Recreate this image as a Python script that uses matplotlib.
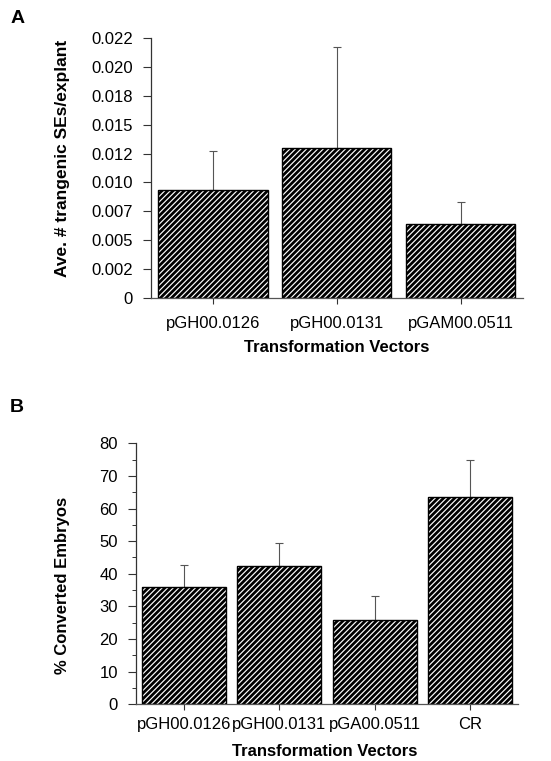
import numpy as np
import matplotlib as mpl
from matplotlib import pyplot as plt
from matplotlib.ticker import MultipleLocator

mpl.rcParams.update({
    "font.family": ["Liberation Sans", "DejaVu Sans"],
    "hatch.linewidth": 0.85,
    "axes.linewidth": 0.9,
})

# Panel A data
vectors_a = ["pGH00.0126", "pGH00.0131", "pGAM00.0511"]
ses_mean = [0.00935, 0.0130, 0.0064]
ses_err = [0.0034, 0.0087, 0.0019]
ticks_a = [0, 0.0025, 0.005, 0.0075, 0.010, 0.0125, 0.015, 0.0175, 0.020, 0.0225]
ticklabels_a = ["0", "0.002", "0.005", "0.007", "0.010", "0.012", "0.015", "0.018", "0.020", "0.022"]

# Panel B data
vectors_b = ["pGH00.0126", "pGH00.0131", "pGA00.0511", "CR"]
conv_mean = [35.8, 42.4, 25.9, 63.5]
conv_err = [7.0, 7.0, 7.4, 11.5]

fig = plt.figure(figsize=(5.51, 7.61), dpi=100)


def hatched_bars(ax, x, h, width):
    ax.bar(x, h, width, color="black", edgecolor="white", hatch="//////", linewidth=0, zorder=2)
    ax.bar(x, h, width, fill=False, edgecolor="black", linewidth=1.0, zorder=3)


def style_axes(ax):
    for s in ["top", "right"]:
        ax.spines[s].set_visible(False)
    ax.spines["left"].set_color("#333333")
    ax.spines["bottom"].set_color("#555555")
    ax.tick_params(axis="both", direction="out", colors="#333333", labelcolor="black")


# ---- Panel A ----
ax1 = fig.add_axes([0.274, 0.6084, 0.675, 0.3416])
xa = np.arange(len(vectors_a))
hatched_bars(ax1, xa, ses_mean, 0.88)
ax1.errorbar(xa, ses_mean, yerr=[np.zeros(len(xa)), ses_err], fmt="none",
             ecolor="#555555", elinewidth=0.8, capsize=3, capthick=0.8, zorder=1)
ax1.set_xlim(-0.5, 2.5)
ax1.set_ylim(0, 0.0225)
ax1.set_yticks(ticks_a)
ax1.set_yticklabels(ticklabels_a)
ax1.set_xticks(xa)
ax1.set_xticklabels(vectors_a)
style_axes(ax1)
ax1.tick_params(axis="y", length=6, width=0.8, pad=7, labelsize=12)
ax1.tick_params(axis="x", length=4, width=0.8, pad=9, labelsize=12)
ax1.set_xlabel("Transformation Vectors", fontsize=12, fontweight="bold", va="center")
ax1.xaxis.set_label_coords(0.5, -0.19)
ax1.set_ylabel("Ave. # trangenic SEs/explant", fontsize=12.5, fontweight="bold", va="center")
ax1.yaxis.set_label_coords(-0.239, 0.537)
fig.text(0.031, 0.976, "A", fontsize=14, fontweight="bold", ha="center", va="center")

# ---- Panel B ----
ax2 = fig.add_axes([0.247, 0.0745, 0.693, 0.343])
xb = np.arange(len(vectors_b))
hatched_bars(ax2, xb, conv_mean, 0.88)
ax2.errorbar(xb, conv_mean, yerr=[np.zeros(len(xb)), conv_err], fmt="none",
             ecolor="#555555", elinewidth=0.8, capsize=3, capthick=0.8, zorder=1)
ax2.set_xlim(-0.5, 3.5)
ax2.set_ylim(0, 80)
ax2.yaxis.set_major_locator(MultipleLocator(10))
ax2.yaxis.set_minor_locator(MultipleLocator(5))
ax2.set_xticks(xb)
ax2.set_xticklabels(vectors_b)
style_axes(ax2)
ax2.tick_params(axis="y", which="major", length=6, width=0.8, pad=7, labelsize=12)
ax2.tick_params(axis="y", which="minor", length=3, width=0.7, colors="#333333")
ax2.tick_params(axis="x", length=4, width=0.8, pad=5, labelsize=12)
ax2.set_xlabel("Transformation Vectors", fontsize=12, fontweight="bold", va="center")
ax2.xaxis.set_label_coords(0.495, -0.179)
ax2.set_ylabel("% Converted Embryos", fontsize=12, fontweight="bold", va="center")
ax2.yaxis.set_label_coords(-0.194, 0.457)
fig.text(0.031, 0.465, "B", fontsize=14, fontweight="bold", ha="center", va="center")

plt.savefig("out.png", dpi=100)
plt.close()
